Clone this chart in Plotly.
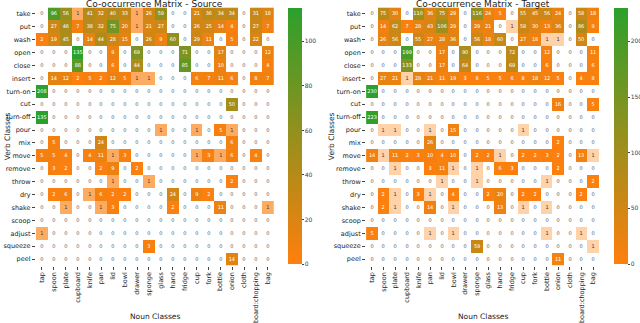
import plotly.graph_objects as go

verbs = ["take", "put", "wash", "open", "close", "insert", "turn-on", "cut", "turn-off", "pour",
         "mix", "move", "remove", "throw", "dry", "shake", "scoop", "adjust", "squeeze", "peel"]
nouns = ["tap", "spoon", "plate", "cupboard", "knife", "pan", "lid", "bowl", "drawer", "sponge",
         "glass", "hand", "fridge", "cup", "fork", "bottle", "onion", "cloth", "board:chopping", "bag"]

source_counts = [
    [0, 96, 56, 1, 41, 32, 40, 33, 1, 26, 59, 0, 0, 21, 36, 34, 34, 0, 31, 18],
    [0, 27, 46, 7, 38, 32, 75, 20, 1, 21, 27, 0, 0, 26, 25, 14, 4, 0, 27, 7],
    [2, 19, 45, 0, 14, 44, 28, 15, 0, 26, 9, 60, 0, 29, 11, 0, 5, 0, 22, 0],
    [0, 0, 0, 135, 0, 0, 9, 0, 69, 0, 0, 0, 71, 0, 0, 17, 0, 0, 0, 12],
    [0, 0, 0, 88, 0, 0, 6, 0, 44, 0, 0, 0, 85, 0, 0, 10, 0, 0, 0, 4],
    [0, 14, 12, 2, 5, 2, 12, 5, 1, 1, 0, 0, 0, 6, 7, 11, 6, 0, 8, 7],
    [208, 0, 0, 0, 0, 0, 0, 0, 0, 0, 0, 0, 0, 0, 0, 0, 0, 0, 0, 0],
    [0, 0, 0, 0, 0, 0, 0, 0, 0, 0, 0, 0, 0, 0, 0, 0, 50, 0, 0, 0],
    [135, 0, 0, 0, 0, 0, 0, 0, 0, 0, 0, 0, 0, 0, 0, 0, 0, 0, 0, 0],
    [0, 0, 0, 0, 0, 0, 0, 0, 0, 0, 1, 0, 0, 1, 0, 5, 1, 0, 0, 0],
    [0, 5, 0, 0, 0, 24, 0, 0, 0, 0, 0, 0, 0, 0, 0, 0, 6, 0, 0, 0],
    [5, 5, 4, 0, 4, 11, 1, 3, 0, 0, 0, 0, 0, 1, 3, 1, 6, 0, 4, 0],
    [0, 3, 2, 0, 0, 2, 9, 0, 2, 0, 0, 0, 0, 0, 0, 0, 0, 0, 0, 0],
    [0, 0, 0, 0, 0, 0, 1, 0, 0, 1, 0, 0, 0, 0, 0, 0, 2, 0, 0, 0],
    [0, 2, 6, 0, 1, 6, 2, 2, 0, 0, 0, 24, 0, 9, 2, 0, 0, 0, 0, 0],
    [0, 0, 1, 0, 0, 1, 3, 0, 0, 0, 0, 2, 0, 0, 0, 11, 0, 0, 0, 1],
    [0, 0, 0, 0, 0, 0, 0, 0, 0, 0, 0, 0, 0, 0, 0, 0, 0, 0, 0, 0],
    [1, 0, 0, 0, 0, 0, 0, 0, 0, 0, 0, 0, 0, 0, 0, 0, 0, 0, 0, 0],
    [0, 0, 0, 0, 0, 0, 0, 0, 0, 3, 0, 0, 0, 0, 0, 0, 0, 0, 0, 0],
    [0, 0, 0, 0, 0, 0, 0, 0, 0, 0, 0, 0, 0, 0, 0, 0, 14, 0, 0, 0],
]

target_counts = [
    [0, 75, 30, 0, 110, 36, 75, 28, 0, 116, 24, 5, 0, 55, 45, 56, 24, 0, 58, 18],
    [0, 14, 62, 7, 28, 43, 106, 29, 0, 29, 21, 0, 1, 58, 30, 13, 36, 0, 86, 9],
    [0, 26, 56, 0, 55, 27, 28, 36, 0, 56, 18, 60, 0, 27, 18, 1, 1, 0, 50, 0],
    [0, 0, 0, 199, 0, 0, 17, 0, 90, 0, 0, 0, 72, 0, 0, 12, 0, 0, 0, 11],
    [0, 0, 0, 133, 0, 0, 17, 0, 64, 0, 0, 0, 69, 0, 0, 6, 0, 0, 0, 6],
    [0, 27, 21, 1, 28, 21, 11, 19, 3, 8, 5, 5, 6, 8, 18, 12, 5, 0, 4, 8],
    [230, 0, 0, 0, 0, 0, 0, 0, 0, 0, 0, 0, 0, 0, 0, 0, 0, 0, 0, 0],
    [0, 0, 0, 0, 0, 0, 0, 0, 0, 0, 0, 0, 0, 0, 0, 0, 16, 0, 0, 5],
    [223, 0, 0, 0, 0, 0, 0, 0, 0, 0, 0, 0, 0, 0, 0, 0, 0, 0, 0, 0],
    [0, 1, 1, 0, 0, 1, 0, 15, 0, 0, 0, 0, 0, 1, 0, 0, 0, 0, 0, 0],
    [0, 0, 0, 0, 0, 26, 0, 0, 0, 0, 0, 0, 0, 0, 0, 0, 2, 0, 0, 0],
    [14, 1, 11, 2, 3, 10, 4, 10, 0, 2, 2, 1, 0, 2, 2, 3, 2, 0, 13, 1],
    [0, 0, 1, 0, 0, 3, 11, 1, 0, 1, 0, 6, 3, 0, 0, 0, 2, 0, 0, 0],
    [0, 0, 0, 0, 0, 0, 1, 0, 0, 1, 0, 0, 0, 0, 0, 1, 0, 0, 0, 2],
    [0, 2, 1, 0, 3, 1, 0, 4, 0, 0, 2, 20, 0, 2, 2, 0, 0, 0, 2, 0],
    [0, 2, 1, 0, 0, 14, 0, 1, 0, 0, 0, 13, 0, 1, 0, 1, 0, 0, 0, 0],
    [0, 0, 0, 0, 0, 0, 0, 0, 0, 0, 0, 0, 0, 0, 0, 0, 0, 0, 0, 0],
    [5, 0, 0, 0, 0, 1, 0, 1, 0, 0, 0, 0, 0, 0, 0, 1, 0, 0, 1, 0],
    [0, 0, 0, 0, 0, 0, 0, 0, 0, 59, 0, 0, 0, 0, 0, 0, 0, 0, 0, 1],
    [0, 0, 0, 0, 0, 0, 0, 0, 0, 0, 0, 0, 0, 0, 0, 0, 11, 0, 0, 0],
]

ORANGE_GREEN = [[0, "#ff7f0e"], [1, "#2ca02c"]]
FONT = "DejaVu Sans"


def _mask(counts, keep):
    return [[v if keep(v) else None for v in row] for row in counts]


def add_matrix(fig, counts, n, cb_x, zmax, dtick, light_opacity):
    xa, ya = ("x", "y") if n == 1 else (f"x{n}", f"y{n}")
    # zero cells: white background, grey "0"
    fig.add_heatmap(z=_mask(counts, lambda v: v == 0), x=nouns, y=verbs, xaxis=xa, yaxis=ya,
                    colorscale=[[0, "white"], [1, "white"]], showscale=False,
                    texttemplate="%{z}", textfont=dict(size=5, color="#555"), hoverinfo="skip")
    # single counts drawn faded
    fig.add_heatmap(z=_mask(counts, lambda v: v == 1), x=nouns, y=verbs, xaxis=xa, yaxis=ya,
                    colorscale=ORANGE_GREEN, zmin=0, zmax=zmax, showscale=False,
                    opacity=light_opacity, texttemplate="%{z}",
                    textfont=dict(size=5, color="#333"))
    fig.add_heatmap(z=_mask(counts, lambda v: v > 1), x=nouns, y=verbs, xaxis=xa, yaxis=ya,
                    colorscale=ORANGE_GREEN, zmin=0, zmax=zmax, texttemplate="%{z}",
                    textfont=dict(size=5, color="white"),
                    colorbar=dict(x=cb_x, xanchor="left", xpad=0, ypad=0,
                                  y=1 - 136 / 323, yanchor="middle", len=256 / 323,
                                  thickness=14, outlinewidth=0, dtick=dtick, ticks="outside",
                                  ticklen=2, tickfont=dict(size=6, family=FONT)))


fig = go.Figure()
add_matrix(fig, source_counts, 1, 288 / 640, 115, 20, 0.65)
add_matrix(fig, target_counts, 2, 614 / 640, 230, 50, 0.35)

ax_common = dict(showgrid=False, zeroline=False, ticks="outside", ticklen=3, tickwidth=0.8,
                 tickfont=dict(size=6.5, family=FONT, color="#222"), showline=False,
                 automargin=False)
fig.update_layout(
    width=640, height=323, margin=dict(l=0, r=0, t=0, b=0, autoexpand=False),
    plot_bgcolor="white", paper_bgcolor="white", font=dict(family=FONT),
    xaxis=dict(domain=[0.056, 0.428], anchor="y", tickangle=-90,
               categoryorder="array", categoryarray=nouns, **ax_common),
    yaxis=dict(domain=[0.178, 0.977], anchor="x", autorange="reversed",
               categoryorder="array", categoryarray=verbs, **ax_common),
    xaxis2=dict(domain=[0.572, 0.936], anchor="y2", tickangle=-90,
                categoryorder="array", categoryarray=nouns, **ax_common),
    yaxis2=dict(domain=[0.178, 0.977], anchor="x2", autorange="reversed",
                categoryorder="array", categoryarray=verbs, **ax_common),
)

titles = [("Co-occurrence Matrix - Source", 0.242), ("Co-occurrence Matrix - Target", 0.754)]
for text, x in titles:
    fig.add_annotation(text=text, x=x, y=1 - 4 / 323, xref="paper", yref="paper",
                       showarrow=False, xanchor="center", yanchor="middle",
                       font=dict(size=9, family=FONT, color="#222"))
for x in (0.242, 0.754):
    fig.add_annotation(text="Noun Classes", x=x, y=0.0, xref="paper", yref="paper",
                       showarrow=False, xanchor="center", yanchor="bottom",
                       font=dict(size=7.5, family=FONT, color="#222"))
for x in (0.012, 0.518):
    fig.add_annotation(text="Verb Classes", x=x, y=0.577, xref="paper", yref="paper",
                       showarrow=False, textangle=-90, xanchor="center", yanchor="middle",
                       font=dict(size=7.5, family=FONT, color="#222"))

fig.write_html("out.html", config={"displayModeBar": False},
               post_script="document.body.style.margin='0';")
